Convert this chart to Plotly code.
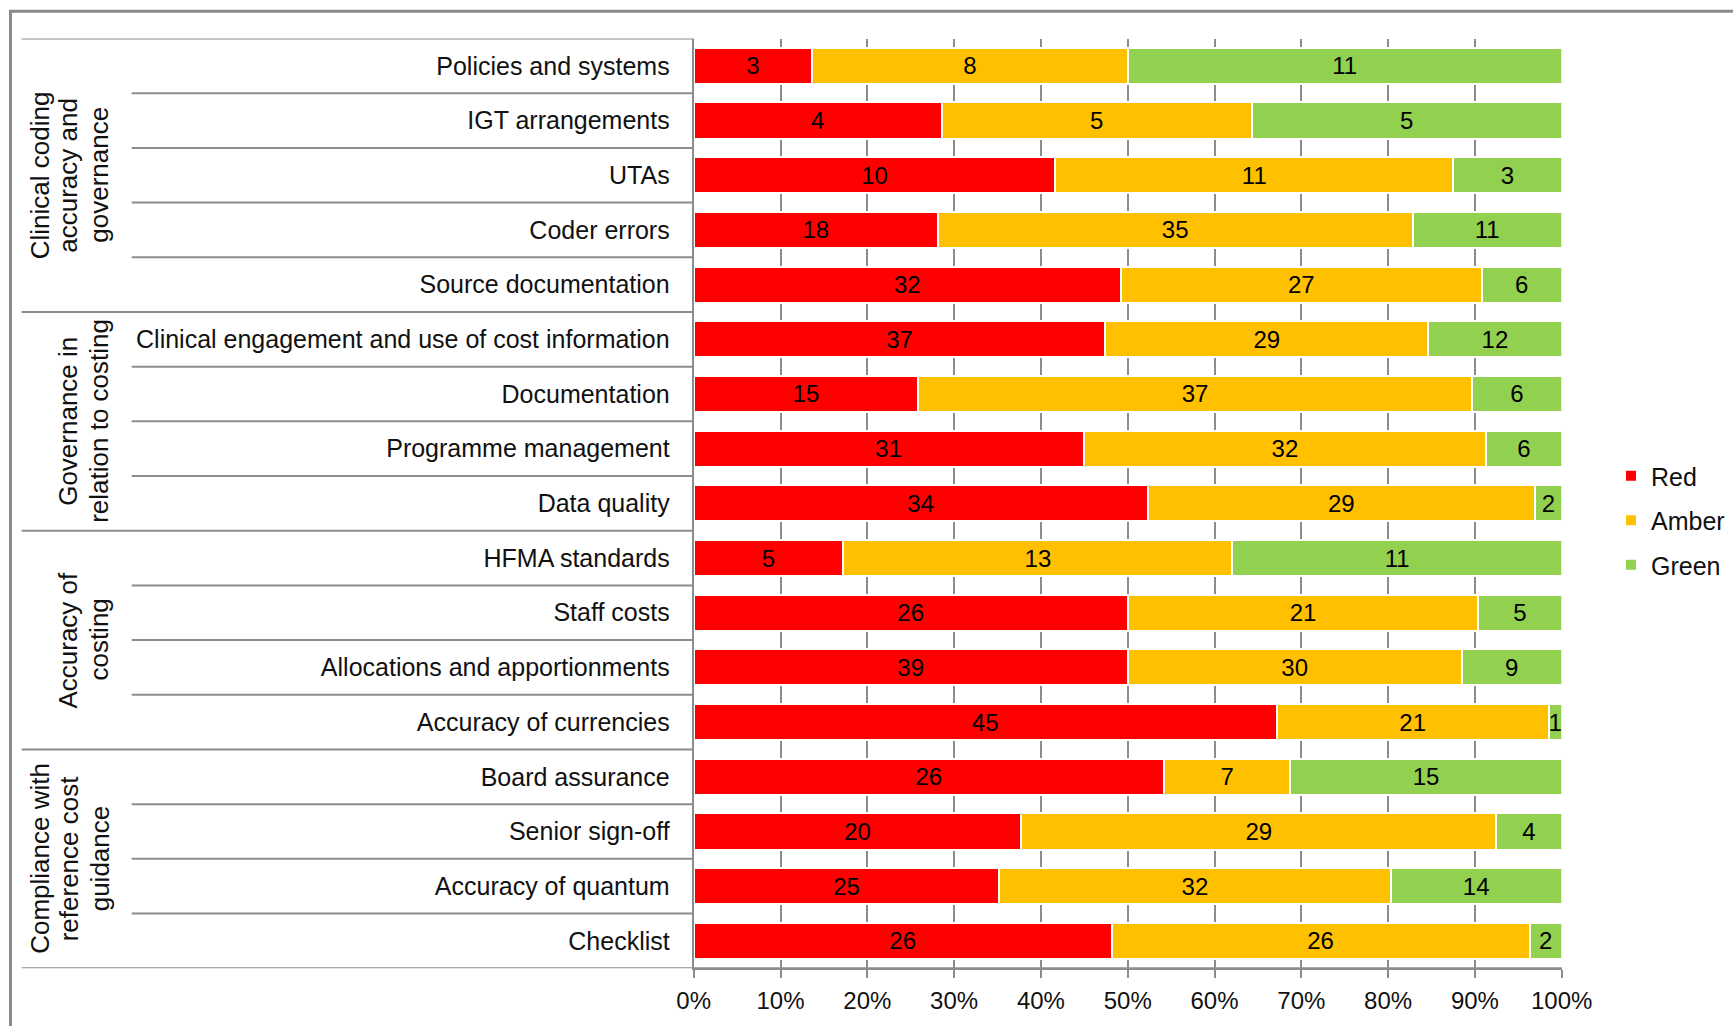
import plotly.graph_objects as go

# Assessment areas, top to bottom
categories = [
    "Policies and systems",
    "IGT arrangements",
    "UTAs",
    "Coder errors",
    "Source documentation",
    "Clinical engagement and use of cost information",
    "Documentation",
    "Programme management",
    "Data quality",
    "HFMA standards",
    "Staff costs",
    "Allocations and apportionments",
    "Accuracy of currencies",
    "Board assurance",
    "Senior sign-off",
    "Accuracy of quantum",
    "Checklist",
]

# RAG rating counts per area
red = [3, 4, 10, 18, 32, 37, 15, 31, 34, 5, 26, 39, 45, 26, 20, 25, 26]
amber = [8, 5, 11, 35, 27, 29, 37, 32, 29, 13, 21, 30, 21, 7, 29, 32, 26]
green = [11, 5, 3, 11, 6, 12, 6, 6, 2, 11, 5, 9, 1, 15, 4, 14, 2]

# Area groupings: label lines and the index range of rows they cover
groups = [
    (["Clinical coding", "accuracy and", "governance"], 0, 4),
    (["Governance in", "relation to costing"], 5, 8),
    (["Accuracy of", "costing"], 9, 12),
    (["Compliance with", "reference cost", "guidance"], 13, 16),
]

x_ticks = [0, 10, 20, 30, 40, 50, 60, 70, 80, 90, 100]

series = [("Red", red, "#FF0000"), ("Amber", amber, "#FFC000"), ("Green", green, "#92D050")]

W, H = 1733, 1026
FONT = "Liberation Sans, Arial, sans-serif"
GRAY = "#8c8c8c"

fig = go.Figure()
for name, vals, col in series:
    fig.add_trace(go.Bar(
        name=name,
        legendgroup=name,
        y=categories,
        x=vals,
        orientation="h",
        marker=dict(color=col, line=dict(color="white", width=2)),
        text=[str(v) for v in vals],
        textposition="inside",
        insidetextanchor="middle",
        textangle=0,
        textfont=dict(family=FONT, size=24, color="#000000"),
        hoverinfo="skip",
    ))

# plot area in pixels
px_left, px_right = 693.7, 1561.7
px_top, px_bottom = 38.5, 968.2

shapes = []
n = len(categories)
group_ends = {g[2] for g in groups}
label_x_outer = 21.7 / W
label_x_inner = 131.7 / W
plot_x0 = px_left / W

# top border of the label column
shapes.append(dict(type="line", xref="paper", yref="y", x0=label_x_outer, x1=plot_x0,
                   y0=-0.5, y1=-0.5, line=dict(color=GRAY, width=2)))
for i in range(n):
    yb = i + 0.5
    if i == n - 1:
        x0 = label_x_outer
        x1 = px_right / W
    elif i in group_ends:
        x0 = label_x_outer
        x1 = plot_x0
    else:
        x0 = label_x_inner
        x1 = plot_x0
    shapes.append(dict(type="line", xref="paper", yref="y", x0=x0, x1=x1,
                       y0=yb, y1=yb, line=dict(color=GRAY, width=2)))

# outer chart frame (top and left edges)
shapes.append(dict(type="line", xref="paper", yref="paper", x0=9 / W, x1=1.0,
                   y0=1 - 11.3 / H, y1=1 - 11.3 / H, line=dict(color="#8a8a8a", width=3)))
shapes.append(dict(type="line", xref="paper", yref="paper", x0=10.5 / W, x1=10.5 / W,
                   y0=0, y1=1 - 10 / H, line=dict(color="#8a8a8a", width=3)))

# rotated group labels, one annotation per line, columns right-aligned to the row labels
line_cols = [99.5, 68.5, 40.0]
annotations = []
for lines, a, b in groups:
    cols = line_cols[:len(lines)][::-1]
    for text, cx in zip(lines, cols):
        annotations.append(dict(
            text=text, xref="paper", yref="y",
            x=cx / W, y=(a + b) / 2, xanchor="center", yanchor="middle",
            textangle=-90, showarrow=False, align="center",
            font=dict(family=FONT, size=26, color="#111111"),
        ))

fig.update_layout(
    width=W, height=H,
    margin=dict(l=0, r=0, t=0, b=0, autoexpand=False),
    paper_bgcolor="white", plot_bgcolor="white",
    barmode="stack", barnorm="percent", bargap=0.34,
    uniformtext=dict(minsize=24, mode="show"),
    shapes=shapes, annotations=annotations,
    legend=dict(
        x=1611 / W, y=1 - 520.5 / H, xanchor="left", yanchor="middle",
        font=dict(family=FONT, size=25, color="#111111"),
        traceorder="grouped", tracegroupgap=9,
        bgcolor="rgba(0,0,0,0)",
    ),
    xaxis=dict(
        domain=[px_left / W, px_right / W],
        range=[0, 100], tickvals=x_ticks, ticktext=[f"{v}%" for v in x_ticks],
        showgrid=True, gridcolor=GRAY, gridwidth=1.5,
        zeroline=False, showline=True, linecolor=GRAY, linewidth=2,
        ticks="outside", ticklen=8, tickcolor=GRAY, tickwidth=1.5,
        tickfont=dict(family=FONT, size=24, color="#111111"),
        ticklabelstandoff=2, fixedrange=True,
    ),
    yaxis=dict(
        domain=[1 - px_bottom / H, 1 - px_top / H],
        type="category", categoryorder="array", categoryarray=categories,
        range=[n - 0.5, -0.5],
        showgrid=False, zeroline=False, showline=True, linecolor=GRAY, linewidth=2,
        ticks="", tickfont=dict(family=FONT, size=25, color="#111111"),
        ticklabelstandoff=17, fixedrange=True,
    ),
)

fig.write_html("out.html")
